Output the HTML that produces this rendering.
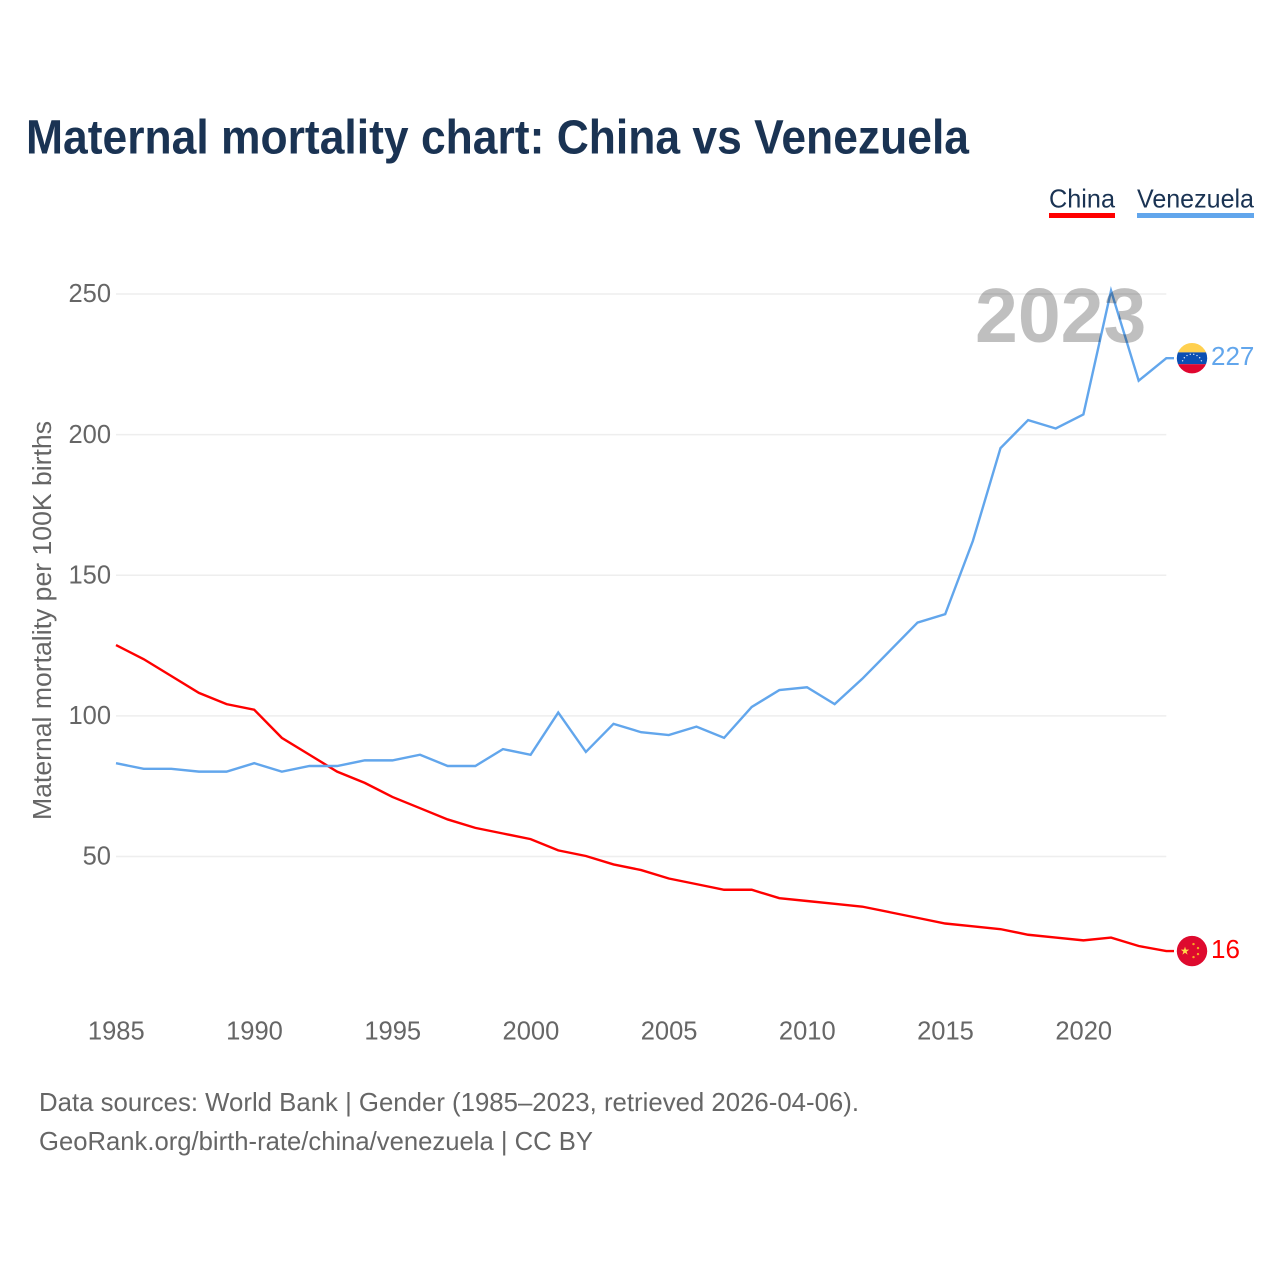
<!DOCTYPE html>
<html lang="en">
<head>
<meta charset="utf-8">
<title>Maternal mortality chart: China vs Venezuela</title>
<style>
html,body{margin:0;padding:0;background:#fff;width:1280px;height:1280px;overflow:hidden}
svg{display:block}
text{font-family:"Liberation Sans",sans-serif}
</style>
</head>
<body>
<svg id="chart" xmlns="http://www.w3.org/2000/svg" width="1280" height="1280" viewBox="0 0 1280 1280">
  <rect width="1280" height="1280" fill="#fff"/>
  <text x="26" y="153.5" font-size="48" font-weight="700" fill="#1a3353" textLength="943" lengthAdjust="spacingAndGlyphs">Maternal mortality chart: China vs Venezuela</text>

  <g>
    <g>
      <text x="1049" y="207.5" font-size="26" fill="#1a3353" textLength="66" lengthAdjust="spacingAndGlyphs">China</text>
      <rect x="1049" y="213" width="66" height="5" fill="#ff0000"/>
    </g>
    <g>
      <text x="1137" y="207.5" font-size="26" fill="#1a3353" textLength="117" lengthAdjust="spacingAndGlyphs">Venezuela</text>
      <rect x="1137" y="213" width="117" height="5" fill="#62a6ec"/>
    </g>
  </g>

  <g id="grid"></g>
  <g id="yTicks"></g>
  <g id="xTicks"></g>
  <text transform="translate(51 620.5) rotate(-90)" text-anchor="middle" font-size="25.5" fill="#666" textLength="399" lengthAdjust="spacingAndGlyphs">Maternal mortality per 100K births</text>

  <g id="series"></g>
  <text x="975" y="342" font-size="77" font-weight="700" fill="#000" fill-opacity="0.25">2023</text>
  <g id="endMarkers"></g>

  <text x="39" y="1111" font-size="26" fill="#666" textLength="820" lengthAdjust="spacingAndGlyphs">Data sources: World Bank | Gender (1985–2023, retrieved 2026-04-06).</text>
  <text x="39" y="1150" font-size="26" fill="#666" textLength="554" lengthAdjust="spacingAndGlyphs">GeoRank.org/birth-rate/china/venezuela | CC BY</text>
</svg>
<script>
const years = [1985,1986,1987,1988,1989,1990,1991,1992,1993,1994,1995,1996,1997,1998,1999,2000,2001,2002,2003,2004,2005,2006,2007,2008,2009,2010,2011,2012,2013,2014,2015,2016,2017,2018,2019,2020,2021,2022,2023];
const chinaValues = [125,120,114,108,104,102,92,86,80,76,71,67,63,60,58,56,52,50,47,45,42,40,38,38,35,34,33,32,30,28,26,25,24,22,21,20,21,18,16.2];
const venezuelaValues = [83,81,81,80,80,83,80,82,82,84,84,86,82,82,88,86,101,87,97,94,93,96,92,103,109,110,104,113,123,133,136,162,195,205,202,207,251,219,227];
const yTickValues = [50,100,150,200,250];
const xTickValues = [1985,1990,1995,2000,2005,2010,2015,2020];

const NS = 'http://www.w3.org/2000/svg';
const xAxis = function (year) { return 116 + (year - 1985) * 27.64; };
const yAxis = function (value) { return 856 - (value - 50) * 2.8125; };
const make = function (tag, parent) {
  const el = document.createElementNS(NS, tag);
  parent.appendChild(el);
  return el;
};

const grid = document.getElementById('grid');
const yTicks = document.getElementById('yTicks');
yTickValues.forEach(function (v) {
  const line = make('line', grid);
  
  
  line.setAttribute('x1', xAxis(1985));
  line.setAttribute('x2', xAxis(2023));
  line.setAttribute('y1', yAxis(v) + 0.5);
  line.setAttribute('y2', yAxis(v) + 0.5);
  line.setAttribute('stroke', '#eeeeee');
  line.setAttribute('stroke-width', '1.5');
  const label = make('text', yTicks);
  
  
  label.setAttribute('x', 111);
  label.setAttribute('y', yAxis(v) + 8.7);
  label.setAttribute('text-anchor', 'end');
  label.setAttribute('font-size', '25.5');
  label.setAttribute('fill', '#666');
  label.textContent = v;
});

const xTicks = document.getElementById('xTicks');
xTickValues.forEach(function (yr) {
  const label = make('text', xTicks);
  
  
  label.setAttribute('x', xAxis(yr) + 0.3);
  label.setAttribute('y', 1039.5);
  label.setAttribute('text-anchor', 'middle');
  label.setAttribute('font-size', '25.5');
  label.setAttribute('fill', '#666');
  label.textContent = yr;
});

const series = document.getElementById('series');
const drawSeries = function (values, color, name) {
  const pts = values.map(function (v, i) { return xAxis(years[i]).toFixed(2) + ',' + yAxis(v).toFixed(2); });
  const last = yAxis(values[values.length - 1]).toFixed(2);
  pts.push('1174,' + last);
  const line = make('polyline', series);
  
  
  line.setAttribute('points', pts.join(' '));
  line.setAttribute('fill', 'none');
  line.setAttribute('stroke', color);
  line.setAttribute('stroke-width', '2.4');
  line.setAttribute('stroke-linejoin', 'miter');
};
drawSeries(chinaValues, '#ff0000', 'line-china');
drawSeries(venezuelaValues, '#62a6ec', 'line-venezuela');

const markers = document.getElementById('endMarkers');
const FLAG_X = 1192;
const FLAG_R = 15.2;

/* Venezuela end marker */
const veY = yAxis(venezuelaValues[venezuelaValues.length - 1]);
const veFlag = make('g', markers);


veFlag.setAttribute('transform', 'translate(' + FLAG_X + ' ' + veY + ')');
const veClip = make('clipPath', veFlag);
veClip.setAttribute('id', 'veClip');
const veClipCircle = make('circle', veClip);
veClipCircle.setAttribute('r', FLAG_R);
const veBody = make('g', veFlag);
veBody.setAttribute('clip-path', 'url(#veClip)');
[['#ffd04f', -16, 10.2], ['#0b4fb3', -5.8, 11.8], ['#e0062f', 6, 10]].forEach(function (band) {
  const r = make('rect', veBody);
  r.setAttribute('x', -16);
  r.setAttribute('y', band[1]);
  r.setAttribute('width', 32);
  r.setAttribute('height', band[2]);
  r.setAttribute('fill', band[0]);
});
[-70, -50, -30, -10, 10, 30, 50, 70].forEach(function (deg) {
  const a = deg * Math.PI / 180;
  const s = make('circle', veBody);
  s.setAttribute('cx', 10 * Math.sin(a));
  s.setAttribute('cy', 6 - 10 * Math.cos(a));
  s.setAttribute('r', 0.7);
  s.setAttribute('fill', '#dfe9f8');
});
const veLabel = make('text', markers);


veLabel.setAttribute('x', 1211);
veLabel.setAttribute('y', veY + 7);
veLabel.setAttribute('font-size', '26');
veLabel.setAttribute('fill', '#62a6ec');
veLabel.textContent = Math.round(venezuelaValues[venezuelaValues.length - 1]);

/* China end marker */
const cnY = yAxis(chinaValues[chinaValues.length - 1]);
const cnFlag = make('g', markers);


cnFlag.setAttribute('transform', 'translate(' + FLAG_X + ' ' + cnY + ')');
const cnDisc = make('circle', cnFlag);
cnDisc.setAttribute('r', FLAG_R);
cnDisc.setAttribute('fill', '#de0a2e');
const cnStar = make('polygon', cnFlag);
cnStar.setAttribute('points', '-7,-4.4 -6,-1.4 -2.8,-1.4 -5.4,0.5 -4.4,3.6 -7,1.7 -9.6,3.6 -8.6,0.5 -11.2,-1.4 -8,-1.4');
cnStar.setAttribute('fill', '#ffd84a');
[[1.5, -7], [6, -3], [6, 3], [1.5, 6]].forEach(function (p) {
  const s = make('circle', cnFlag);
  s.setAttribute('cx', p[0]);
  s.setAttribute('cy', p[1]);
  s.setAttribute('r', 1.2);
  s.setAttribute('fill', '#f5a623');
});
const cnLabel = make('text', markers);


cnLabel.setAttribute('x', 1211);
cnLabel.setAttribute('y', cnY + 7);
cnLabel.setAttribute('font-size', '26');
cnLabel.setAttribute('fill', '#ff0000');
cnLabel.textContent = Math.round(chinaValues[chinaValues.length - 1]);
</script>
</body>
</html>
